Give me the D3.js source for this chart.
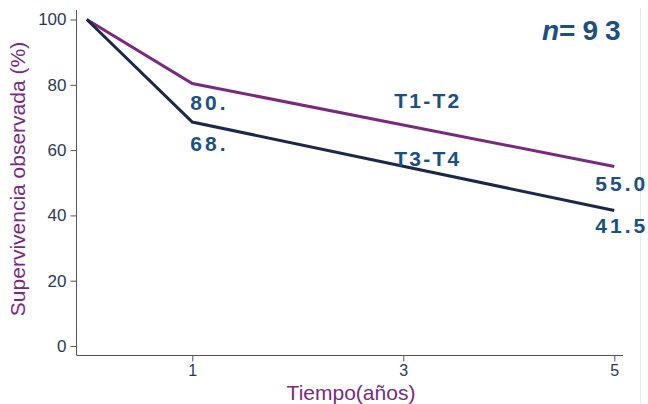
<!DOCTYPE html>
<html><head><meta charset="utf-8">
<script src="https://cdn.jsdelivr.net/npm/d3@7"></script>
<style>body{margin:0;background:#fff}svg{display:block}
text{font-family:"Liberation Sans",Arial,sans-serif}</style>
</head><body>
<svg id="c" width="648" height="404"></svg>
<script>
const years = [0, 1, 5];
const seriesT12 = [100, 80.4, 55.0];
const seriesT34 = [100, 68.6, 41.5];
const xTicks = [1, 3, 5];
const yTicks = [0, 20, 40, 60, 80, 100];
const valueLabels = [
  {text: "80.", year: 1, value: 80.4, dx: -2, dy: 27},
  {text: "68.", year: 1, value: 68.6, dx: -2, dy: 29},
  {text: "55.0", year: 5, value: 55.0, dx: -19, dy: 25},
  {text: "41.5", year: 5, value: 41.5, dx: -19, dy: 22}
];
const seriesLabels = [
  {text: "T1-T2", year: 3, value: 68, dy: -16},
  {text: "T3-T4", year: 3, value: 55, dy: 0}
];

const svg = d3.select("#c");
const x = d3.scaleLinear().domain([0, 5]).range([86.8, 614.3]);
const y = d3.scaleLinear().domain([0, 100]).range([346, 19.5]);
const purple = "#7a2a7e", navy = "#1c2847", lab = "#1d4f80", tickc = "#2b3a55";

// faint right border
svg.append("line").attr("x1", 640.5).attr("x2", 640.5).attr("y1", 8).attr("y2", 404)
  .attr("stroke", "#e3ecf2").attr("stroke-width", 1);

// y axis
const ya = svg.append("g").attr("transform", "translate(76.5,0)")
  .call(d3.axisLeft(y).tickValues(yTicks).tickSize(6).tickPadding(4));
ya.select(".domain").attr("d", "M0,10V355").attr("stroke", "#555");
ya.selectAll(".tick line").attr("stroke", "#555");
ya.selectAll("text").style("font-family", '"Liberation Sans",Arial,sans-serif')
  .style("font-size", "17px").style("fill", tickc);

// x axis
const xa = svg.append("g").attr("transform", "translate(0,355.5)")
  .call(d3.axisBottom(x).tickValues(xTicks).tickFormat(d3.format("d")).tickSize(6).tickPadding(3));
xa.select(".domain").attr("d", "M76.5,0H623").attr("stroke", "#555");
xa.selectAll(".tick line").attr("stroke", "#555");
xa.selectAll("text").style("font-family", '"Liberation Sans",Arial,sans-serif')
  .style("font-size", "16px").style("fill", tickc);

// lines
const line = d3.line().x((d, i) => x(years[i])).y(d => y(d));
svg.append("path").datum(seriesT12).attr("d", line).attr("fill", "none")
  .attr("stroke", purple).attr("stroke-width", 3);
svg.append("path").datum(seriesT34).attr("d", line).attr("fill", "none")
  .attr("stroke", navy).attr("stroke-width", 3);

const bold = sel => sel.style("font-weight", "bold").style("fill", lab);

valueLabels.forEach(l => {
  bold(svg.append("text")).attr("x", x(l.year) + l.dx).attr("y", y(l.value) + l.dy)
    .style("font-size", "21px").style("letter-spacing", "3px").text(l.text);
});
seriesLabels.forEach(l => {
  bold(svg.append("text")).attr("x", x(l.year) - 9).attr("y", y(l.value) + l.dy)
    .style("font-size", "21px").style("letter-spacing", "2.2px").text(l.text);
});

// n=93
const nt = bold(svg.append("text")).attr("x", 542).attr("y", 40).style("font-size", "28px");
nt.append("tspan").style("font-style", "italic").text("n");
nt.append("tspan").style("letter-spacing", "7px").text("=93");

// axis titles
svg.append("text").attr("x", 351).attr("y", 400).attr("text-anchor", "middle")
  .style("font-size", "21px").style("fill", purple).text("Tiempo(años)");
svg.append("text").attr("transform", "translate(25,179) rotate(-90)").attr("text-anchor", "middle")
  .style("font-size", "21px").style("fill", purple).text("Supervivencia observada (%)");
</script>
</body></html>
